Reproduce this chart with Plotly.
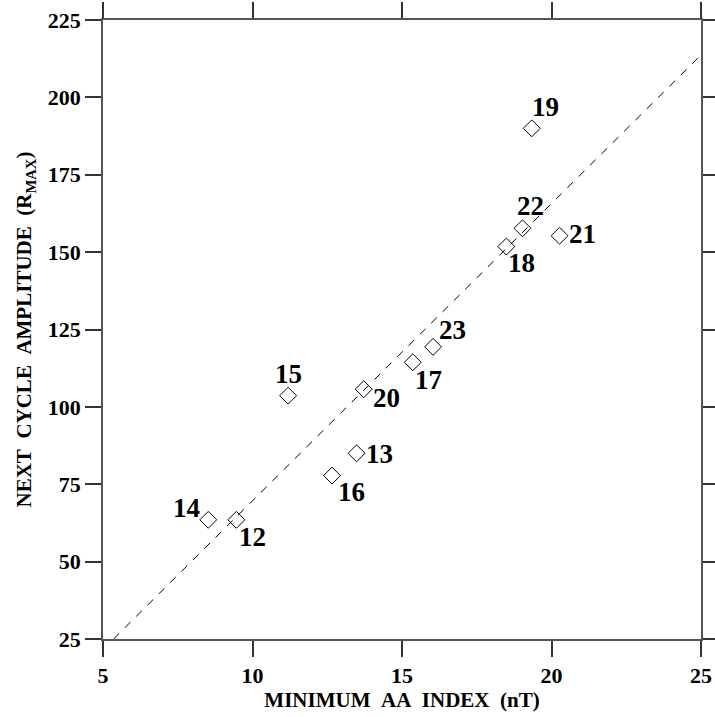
import plotly.graph_objects as go

cycles = ["12", "13", "14", "15", "16", "17", "18", "19", "20", "21", "22", "23"]
aa_min = [9.46, 13.48, 8.52, 11.19, 12.66, 15.36, 18.49, 19.34, 13.72, 20.27, 19.03, 16.04]
r_max = [63.5, 85.0, 63.5, 103.6, 77.8, 114.4, 151.8, 190.0, 105.7, 155.3, 157.7, 119.4]

fit_x = [5.35, 25.0]
fit_y = [25.0, 213.7]

x_ticks = [5, 10, 15, 20, 25]
y_ticks = [25, 50, 75, 100, 125, 150, 175, 200, 225]

# label pixel offsets (dx right, dy up)
label_dx = [16, 23, -22, 0, 19, 16, 15, 14, 23, 23, 8, 19]
label_dy = [-17, -1, 12, 22, -16, -18, -16, 21, -9, 2, 22, 17]

FONT = "Liberation Serif"

fig = go.Figure()
fig.add_trace(go.Scatter(
    x=fit_x, y=fit_y, mode="lines",
    line=dict(color="black", width=1, dash="8px,8px"),
    hoverinfo="skip", showlegend=False))
fig.add_trace(go.Scatter(
    x=aa_min, y=r_max, mode="markers",
    marker=dict(symbol="diamond-open", size=13, color="black",
                line=dict(color="black", width=1)),
    showlegend=False))

for c, xv, yv, dx, dy in zip(cycles, aa_min, r_max, label_dx, label_dy):
    fig.add_annotation(x=xv, y=yv, text="<b>%s</b>" % c, showarrow=False,
                       xshift=dx, yshift=dy,
                       font=dict(family=FONT, size=27, color="black"))

axis_common = dict(
    showgrid=False, zeroline=False, showline=True, linecolor="#555555",
    linewidth=1.5, mirror="allticks", ticks="outside", ticklen=16,
    tickcolor="#333333", tickwidth=1.5, automargin=False,
    tickfont=dict(family=FONT, size=22, color="black"),
)

fig.update_xaxes(range=[5, 25], tickvals=x_ticks, ticktext=["<b>%d</b>" % v for v in x_ticks],
                 title=dict(text="<b>MINIMUM\u00a0\u00a0AA\u00a0\u00a0INDEX\u00a0\u00a0(nT)</b>",
                            font=dict(family=FONT, size=21, color="black"), standoff=5),
                 **axis_common)
fig.update_yaxes(range=[25, 225], tickvals=y_ticks, ticktext=["<b>%d</b>" % v for v in y_ticks],
                 title=dict(text="<b>NEXT\u00a0\u00a0CYCLE\u00a0\u00a0AMPLITUDE\u00a0\u00a0(R<sub>MAX</sub>)</b>",
                            font=dict(family=FONT, size=21, color="black"), standoff=10),
                 **axis_common)

fig.update_layout(
    width=715, height=717,
    margin=dict(l=103, r=14, t=20, b=78),
    plot_bgcolor="white", paper_bgcolor="white",
    font=dict(family=FONT, color="black"),
)

fig.write_html("out.html")
